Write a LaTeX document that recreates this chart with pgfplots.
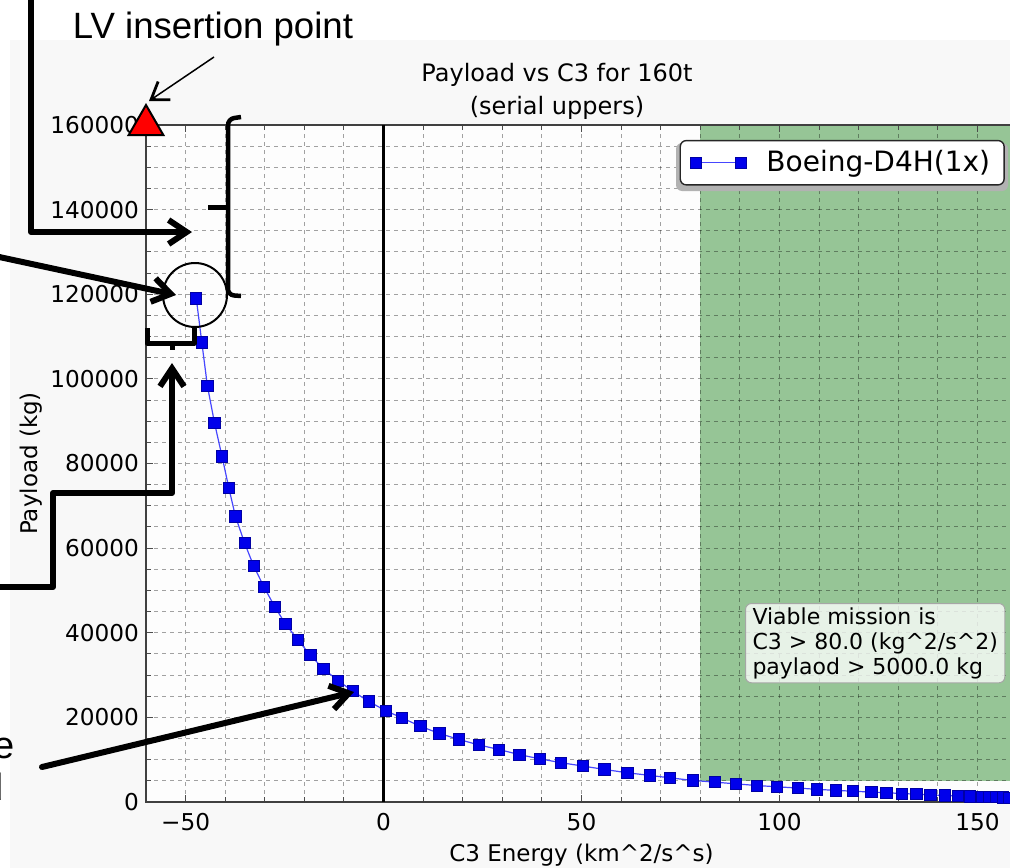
\documentclass[border=0pt]{standalone}
\usepackage{fontspec}
\setmainfont{DejaVu Sans}
\newfontfamily\arial{Liberation Sans}
\usepackage{pgfplots}
\pgfplotsset{compat=1.18}
\usetikzlibrary{arrows.meta}

\definecolor{zone}{RGB}{150,197,150}
\definecolor{ptblue}{RGB}{0,0,235}
\definecolor{lnblue}{RGB}{70,70,255}
\definecolor{figbg}{RGB}{248,248,248}
\definecolor{plotbg}{RGB}{253,253,253}

\tikzset{
  ann/.style={line width=3pt, line cap=round, line join=round},
  barb/.style={-{Straight Barb[length=9pt,width=12pt]}},
}

\begin{document}
\begin{tikzpicture}
% page = 1010 x 867 px, 1 px = 0.5pt
\begin{axis}[
  at={(73pt,-401pt)}, anchor=south west,
  scale only axis, width=435.5pt, height=338.5pt,
  xmin=-60, xmax=160, ymin=0, ymax=160000,
  xtick={-50,0,50,100,150},
  xticklabels={−50,0,50,100,150},
  minor x tick num=4,
  ytick={0,20000,40000,60000,80000,100000,120000,140000,160000},
  yticklabels={0,20000,40000,60000,80000,100000,120000,140000,160000},
  minor y tick num=3,
  scaled y ticks=false,
  ticklabel style={font=\fontsize{11.6}{13}\selectfont},
  xticklabel style={yshift=-2pt},
  grid=both,
  major grid style={black, draw opacity=0.36, line width=0.5pt, dash pattern=on 2pt off 2pt},
  minor grid style={black, draw opacity=0.36, line width=0.5pt, dash pattern=on 2pt off 2pt},
  tick align=inside,
  major tick length=3.5pt, minor tick length=2.5pt,
  tick style={black!70, line width=0.5pt},
  axis line style={black!75, line width=0.9pt},
  clip=false,
  set layers,
  xlabel={C3 Energy (km\textasciicircum 2/s\textasciicircum s)},
  ylabel={Payload (kg)},
  every axis x label/.style={at={(axis description cs:0.5,-0.0872)}, anchor=base, font=\fontsize{11.5}{13}\selectfont},
  every axis y label/.style={at={(axis description cs:-0.132,0.5)}, rotate=90, anchor=center, font=\fontsize{11.5}{13}\selectfont},
  legend style={at={(0.986,0.978)}, anchor=north east, draw=black!85, line width=0.7pt,
    rounded corners=3pt, fill=white, font=\fontsize{14}{16}\selectfont,
    inner xsep=5pt, inner ysep=3pt,
    /tikz/every odd column/.append style={column sep=8pt}},
  legend image code/.code={\draw[sharp corners,#1] plot coordinates {(0pt,0pt) (22.5pt,0pt)};},
]
% figure and plot-area background
\addplot[on layer=axis background, fill=figbg, draw=none, forget plot]
  coordinates {(-94.4,-16000) (165,-16000) (165,180100) (-94.4,180100)} -- cycle;
\addplot[on layer=axis background, fill=plotbg, draw=none, forget plot]
  coordinates {(-60,0) (160,0) (160,160000) (-60,160000)} -- cycle;
% viable region
\addplot[on layer=axis background, fill=zone, draw=none, forget plot]
  coordinates {(80,5000) (160,5000) (160,160000) (80,160000)} -- cycle;
% C3 = 0 line
\addplot[black, line width=1.5pt, forget plot] coordinates {(0,0) (0,160000)};

\addplot[lnblue, line width=0.6pt, mark=square*, mark size=2.8pt,
  mark options={fill=ptblue, draw=ptblue!70!black, line width=0.4pt, solid}]
coordinates {
(-47.3,119000) (-45.9,108600) (-44.5,98400) (-42.7,89600) (-40.8,81700)
(-39.1,74300) (-37.4,67500) (-35.1,61200) (-32.8,55800) (-30.2,50800)
(-27.5,46200) (-24.8,42100) (-21.6,38300) (-18.5,34700) (-15.2,31500)
(-11.5,28700) (-7.8,26200) (-3.8,23800) (0.5,21600) (4.6,19900)
(9.3,17900) (14.1,16200) (19.0,14800) (24.0,13500) (29.2,12400)
(34.3,11200) (39.5,10200) (44.8,9300) (50.3,8500) (55.8,7700)
(61.6,6900) (67.2,6300) (72.4,5700) (78.2,5100) (83.6,4700)
(88.9,4300) (94.2,3900) (99.4,3600) (104.6,3300) (109.4,3000)
(114.2,2750) (118.6,2550) (123.2,2350) (127.0,2200) (131.0,2000)
(134.6,1850) (138.1,1700) (141.7,1550) (145.0,1450) (148.2,1350)
(151.2,1250) (153.0,1200) (154.7,1150) (156.4,1100) (158.1,1050)
(159.8,1000)
};
\addlegendentry{Boeing-D4H(1x)}

% LV insertion point
\addplot[only marks, mark=triangle*, mark size=10pt,
  mark options={fill=red, draw=black, line width=1pt}, forget plot]
  coordinates {(-60,160000)};
\end{axis}

\begin{scope}[x=0.5pt,y=-0.5pt]
  % legend shadow
  \fill[black!30, rounded corners=3pt] (676,143) rectangle (1008,191);
  % title
  \node[anchor=base, font=\fontsize{12}{14}\selectfont] at (557,81.7) {Payload vs C3 for 160t};
  \node[anchor=base, font=\fontsize{12}{14}\selectfont] at (557,114) {(serial uppers)};
  % criteria box
  \node[anchor=north west, draw=gray!70, line width=0.5pt, rounded corners=3pt,
    fill=white, fill opacity=0.78, text opacity=1, align=left,
    inner xsep=3.5pt, inner ysep=2pt, font=\fontsize{11}{12.5}\selectfont]
    at (745,603) {Viable mission is\\C3 > 80.0 (kg\textasciicircum 2/s\textasciicircum 2)\\paylaod > 5000.0 kg};

  % annotations
  \node[anchor=base, font=\arial\fontsize{18.3}{20}\selectfont] at (213,38.3) {LV insertion point};
  \draw[line width=0.75pt, -{Straight Barb[length=8pt,width=11pt,line width=1.4pt]}] (214,57) -- (149,101);

  \draw[ann, barb] (31,-10) -- (31,232) -- (192,232);
  \draw[ann, barb] (-10,255) -- (176,295);

  \draw[line width=2.25pt, rounded corners=3pt] (241,117) -- (228,119) -- (228,295) -- (241,296);
  \draw[line width=2.25pt] (228,207.5) -- (208,207.5);

  \draw[line width=1pt] (195,295) circle[radius=32];

  \draw[line width=2.5pt, line join=round] (147,328) -- (147,343) -- (194,343) -- (194,328);
  \draw[line width=2.5pt] (172,343) -- (172,350);
  \draw[ann, barb] (-10,587) -- (53,587) -- (53,493) -- (172,493) -- (172,363);

  \draw[ann, barb] (42,767) -- (354,692);

  % partly visible annotation text at the left edge
  \node[anchor=base east, inner sep=0pt, font=\arial\fontsize{19}{22}\selectfont] at (15,758) {e};
  \node[anchor=base east, inner sep=0pt, font=\arial\fontsize{19}{22}\selectfont] at (4,800) {d};

  \pgfresetboundingbox
  \path[use as bounding box] (0,0) rectangle (1010,867);
\end{scope}
\end{tikzpicture}
\end{document}
